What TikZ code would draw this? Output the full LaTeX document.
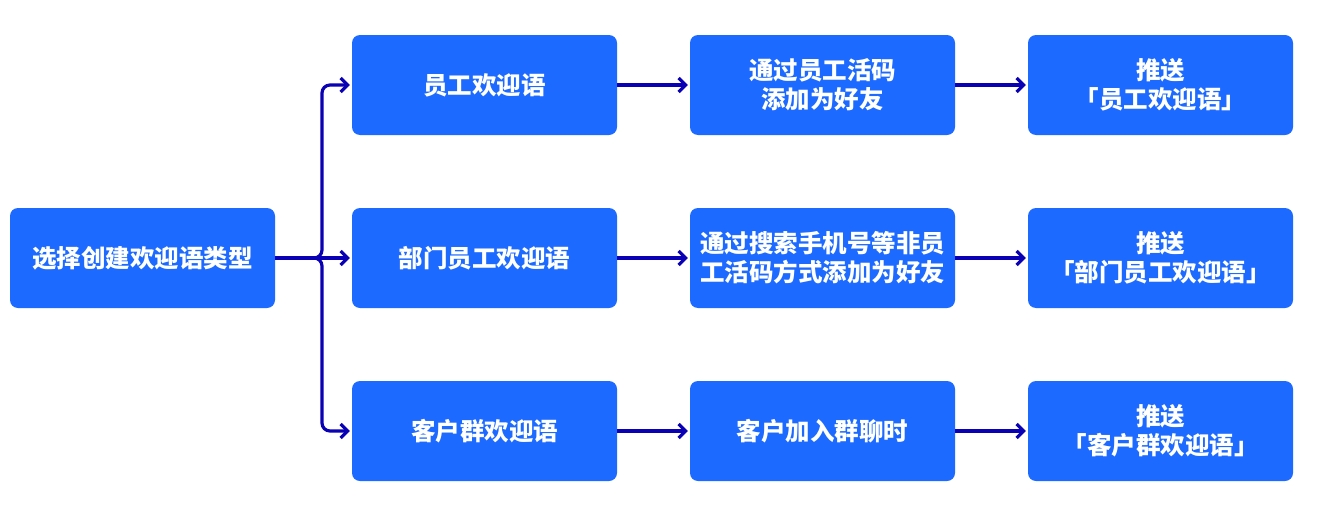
\documentclass[tikz,border=0pt]{standalone}
\usepackage{fontspec}
\setmainfont{Noto Sans CJK SC}
\usetikzlibrary{arrows.meta}
\definecolor{boxblue}{RGB}{28,106,255}
\definecolor{linkblue}{RGB}{10,0,180}
\begin{document}
\begin{tikzpicture}[x=1pt,y=-1pt,
  stepbox/.style={fill=boxblue,draw=none,rounded corners=8pt,minimum width=265pt,minimum height=100pt,
    text=white,font=\bfseries\fontsize{24.5}{29}\selectfont,align=center,inner sep=0pt},
  link/.style={draw=linkblue,line width=3.2pt,-{Straight Barb[length=7pt,width=14pt,line width=3.2pt]}}]
\useasboundingbox (0,0) rectangle (1317,514);
\node[stepbox] (L) at (142.5,258) {选择创建欢迎语类型};
\node[stepbox] (A1) at (484.5,85) {员工欢迎语};
\node[stepbox] (B1) at (484.5,258) {部门员工欢迎语};
\node[stepbox] (C1) at (484.5,431) {客户群欢迎语};
\node[stepbox] (A2) at (822.5,85) {通过员工活码\\添加为好友};
\node[stepbox] (B2) at (822.5,258) {通过搜索手机号等非员\\工活码方式添加为好友};
\node[stepbox] (C2) at (822.5,431) {客户加入群聊时};
\node[stepbox] (A3) at (1160.5,85) {推送\\「员工欢迎语」};
\node[stepbox] (B3) at (1160.5,258) {推送\\「部门员工欢迎语」};
\node[stepbox] (C3) at (1160.5,431) {推送\\「客户群欢迎语」};
\coordinate (J) at (322,258);
\draw[link,rounded corners=8pt] (L.east) -- (J) |- ([xshift=-2pt]A1.west);
\draw[link,rounded corners=8pt] (L.east) -- (J) |- ([xshift=-2pt]C1.west);
\draw[link] (L.east) -- ([xshift=-2pt]B1.west);
\foreach \r in {A,B,C}{
  \draw[link] (\r1.east) -- ([xshift=-2pt]\r2.west);
  \draw[link] (\r2.east) -- ([xshift=-2pt]\r3.west);
}
\end{tikzpicture}
\end{document}
